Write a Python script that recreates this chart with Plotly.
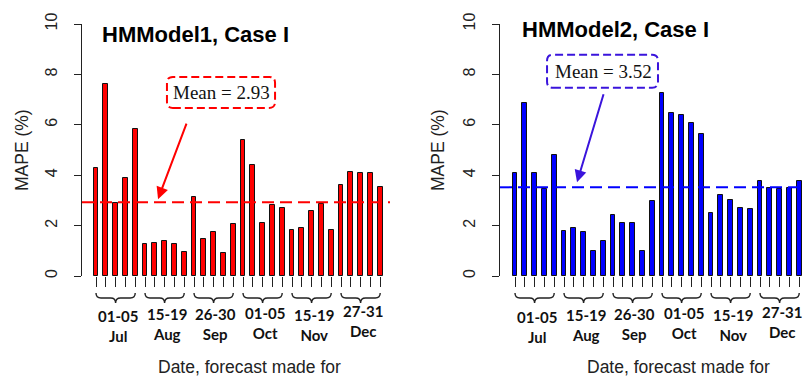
import plotly.graph_objects as go

# MAPE (%) of daily forecasts, six 5-day windows between July and December
window_labels = ["01-05<br>Jul", "15-19<br>Aug", "26-30<br>Sep",
                 "01-05<br>Oct", "15-19<br>Nov", "27-31<br>Dec"]

mape_hm1 = [4.28, 7.60, 2.88, 3.90, 5.85,
            1.27, 1.32, 1.37, 1.27, 0.95,
            3.15, 1.45, 1.73, 0.90, 2.05,
            5.40, 4.42, 2.10, 2.80, 2.70,
            1.83, 1.92, 2.57, 2.85, 1.83,
            3.63, 4.13, 4.10, 4.10, 3.55]

mape_hm2 = [4.10, 6.88, 4.10, 3.45, 4.80,
            1.78, 1.92, 1.75, 1.00, 1.37,
            2.42, 2.10, 2.10, 1.00, 2.98,
            7.25, 6.48, 6.40, 6.08, 5.63,
            2.52, 3.22, 3.03, 2.70, 2.65,
            3.78, 3.50, 3.45, 3.50, 3.78]

panel_titles = ["HMModel1, Case I", "HMModel2, Case I"]
y_ticks = [0, 2, 4, 6, 8, 10]

W, H = 805, 381
days = list(range(len(mape_hm1)))
mean1 = round(sum(mape_hm1) / len(mape_hm1), 2)
mean2 = round(sum(mape_hm2) / len(mape_hm2), 2)

SANS = "Liberation Sans, Arial, sans-serif"
SERIF = "Liberation Serif, Times New Roman, serif"
LABEL_FONT = "Lato, Open Sans, sans-serif"

fig = go.Figure()

panels = [
    dict(vals=mape_hm1, mean=mean1, xa="x", ya="y", color="#FF0000",
         line_color="#FF0000", note_color="#FF0000",
         xr=[-1.43, 30.0], dom=[82 / W, 390 / W],
         title_x=100, title_y=34, ytitle_x=22, xtitle_x=250, xtitle_y=367,
         box=(7.24, 18.27, 6.67, 7.90), text_xy=(12.76, 7.28),
         arrow=((9.29, 6.11), (6.33, 3.05)),
         label_y=[325.5, 324, 323.5, 322.5, 324.5, 321]),
    dict(vals=mape_hm2, mean=mean2, xa="x2", ya="y2", color="#0000FF",
         line_color="#0000FF", note_color="#3A14DC",
         xr=[-1.53, 29.59], dom=[500 / W, 1.0],
         title_x=520, title_y=30, ytitle_x=438, xtitle_x=678, xtitle_y=367,
         box=(3.27, 14.59, 7.47, 8.78), text_xy=(8.98, 8.12),
         arrow=((9.08, 7.27), (6.33, 3.72)),
         label_y=[326.5, 324.5, 324, 323, 325, 321.5]),
]

y_dom = [1 - 276 / H, 1 - 24 / H]


def rounded_box(x0, x1, y0, y1, rx, ry):
    return (f"M {x0 + rx},{y0} L {x1 - rx},{y0} Q {x1},{y0} {x1},{y0 + ry} "
            f"L {x1},{y1 - ry} Q {x1},{y1} {x1 - rx},{y1} "
            f"L {x0 + rx},{y1} Q {x0},{y1} {x0},{y1 - ry} "
            f"L {x0},{y0 + ry} Q {x0},{y0} {x0 + rx},{y0} Z")


def brace(x0, x1, yt, ym, yb, r):
    xm = (x0 + x1) / 2
    return (f"M {x0},{yt} Q {x0},{ym} {x0 + r},{ym} L {xm - r},{ym} "
            f"Q {xm},{ym} {xm},{yb} Q {xm},{ym} {xm + r},{ym} "
            f"L {x1 - r},{ym} Q {x1},{ym} {x1},{yt}")


for i, p in enumerate(panels):
    xa, ya = p["xa"], p["ya"]
    fig.add_trace(go.Bar(
        x=days, y=p["vals"], width=0.5, xaxis=xa, yaxis=ya,
        marker=dict(color=p["color"], line=dict(color="#111111", width=1)),
        showlegend=False, hoverinfo="x+y",
    ))

    sfx = "" if i == 0 else "2"
    fig.update_layout(**{
        f"xaxis{sfx}": dict(
            domain=p["dom"], range=p["xr"], anchor=ya, automargin=False,
            tickmode="array", tickvals=days, ticks="outside", ticklen=10,
            tickwidth=1, tickcolor="#222", showticklabels=False,
            showline=False, showgrid=False, zeroline=False, fixedrange=True,
        ),
        f"yaxis{sfx}": dict(
            domain=y_dom, range=[0, 10], anchor=xa, automargin=False,
            tickmode="array", tickvals=y_ticks, ticks="outside", ticklen=7,
            tickwidth=1, tickcolor="#222", tickangle=-90,
            ticklabelstandoff=11,
            tickfont=dict(family=SANS, size=16, color="#222"),
            showline=True, linecolor="#222", linewidth=1,
            showgrid=False, zeroline=False, fixedrange=True,
        ),
    })

    # mean level
    fig.add_shape(type="line", xref=f"{xa} domain", yref=ya,
                  x0=0, x1=1, y0=p["mean"], y1=p["mean"],
                  line=dict(color=p["line_color"], width=2, dash="12px,6px"))

    # dashed rounded box around the mean label
    bx0, bx1, by0, by1 = p["box"]
    fig.add_shape(type="path", xref=xa, yref=ya,
                  path=rounded_box(bx0, bx1, by0, by1, 0.6, 0.24),
                  line=dict(color=p["note_color"], width=2, dash="8px,4px"))
    fig.add_annotation(xref=xa, yref=ya, x=p["text_xy"][0], y=p["text_xy"][1],
                       xanchor="center", yanchor="middle",
                       text=f"Mean = {p['mean']:.2f}", showarrow=False,
                       font=dict(family=SERIF, size=19, color="#111"))

    # arrow from the label down to the mean line
    (ax0, ay0), (tx, ty) = p["arrow"]
    fig.add_annotation(xref=xa, yref=ya, axref=xa, ayref=ya,
                       x=tx, y=ty, ax=ax0, ay=ay0, text="",
                       showarrow=True, arrowhead=2, arrowsize=1.2,
                       arrowwidth=2, arrowcolor=p["note_color"])

    # panel title
    fig.add_annotation(xref="paper", yref="paper", x=p["title_x"] / W,
                       y=1 - p["title_y"] / H, xanchor="left", yanchor="middle",
                       text=f"<b>{panel_titles[i]}</b>", showarrow=False,
                       font=dict(family=SANS, size=22, color="#000"))

    # axis titles
    fig.add_annotation(xref="paper", yref="paper", x=p["ytitle_x"] / W,
                       y=(y_dom[0] + y_dom[1]) / 2, textangle=-90,
                       xanchor="center", yanchor="middle",
                       text="MAPE (%)", showarrow=False,
                       font=dict(family=SANS, size=17.5, color="#222"))
    fig.add_annotation(xref="paper", yref="paper", x=p["xtitle_x"] / W,
                       y=1 - p["xtitle_y"] / H, xanchor="center",
                       yanchor="middle",
                       text="Date, forecast made for", showarrow=False,
                       font=dict(family=SANS, size=17.5, color="#222"))

    # braces and window labels under each group of five days
    yt, ym, yb = 1 - 293 / H, 1 - 298 / H, 1 - 303 / H
    for g, lab in enumerate(window_labels):
        first, last = days[5 * g], days[5 * g + 4]
        fig.add_shape(type="path", xref=xa, yref="paper",
                      path=brace(first, last, yt, ym, yb, 0.5),
                      line=dict(color="#222", width=1.4))
        fig.add_annotation(xref=xa, yref="paper", x=(first + last) / 2 + 0.2,
                           y=1 - p["label_y"][g] / H,
                           xanchor="center", yanchor="middle",
                           text=f"<b>{lab}</b>", showarrow=False,
                           font=dict(family=LABEL_FONT, size=15, color="#111"))

fig.update_layout(
    width=W, height=H, margin=dict(l=0, r=0, t=0, b=0),
    paper_bgcolor="white", plot_bgcolor="white", bargap=0,
)

fig.write_html("out.html")
